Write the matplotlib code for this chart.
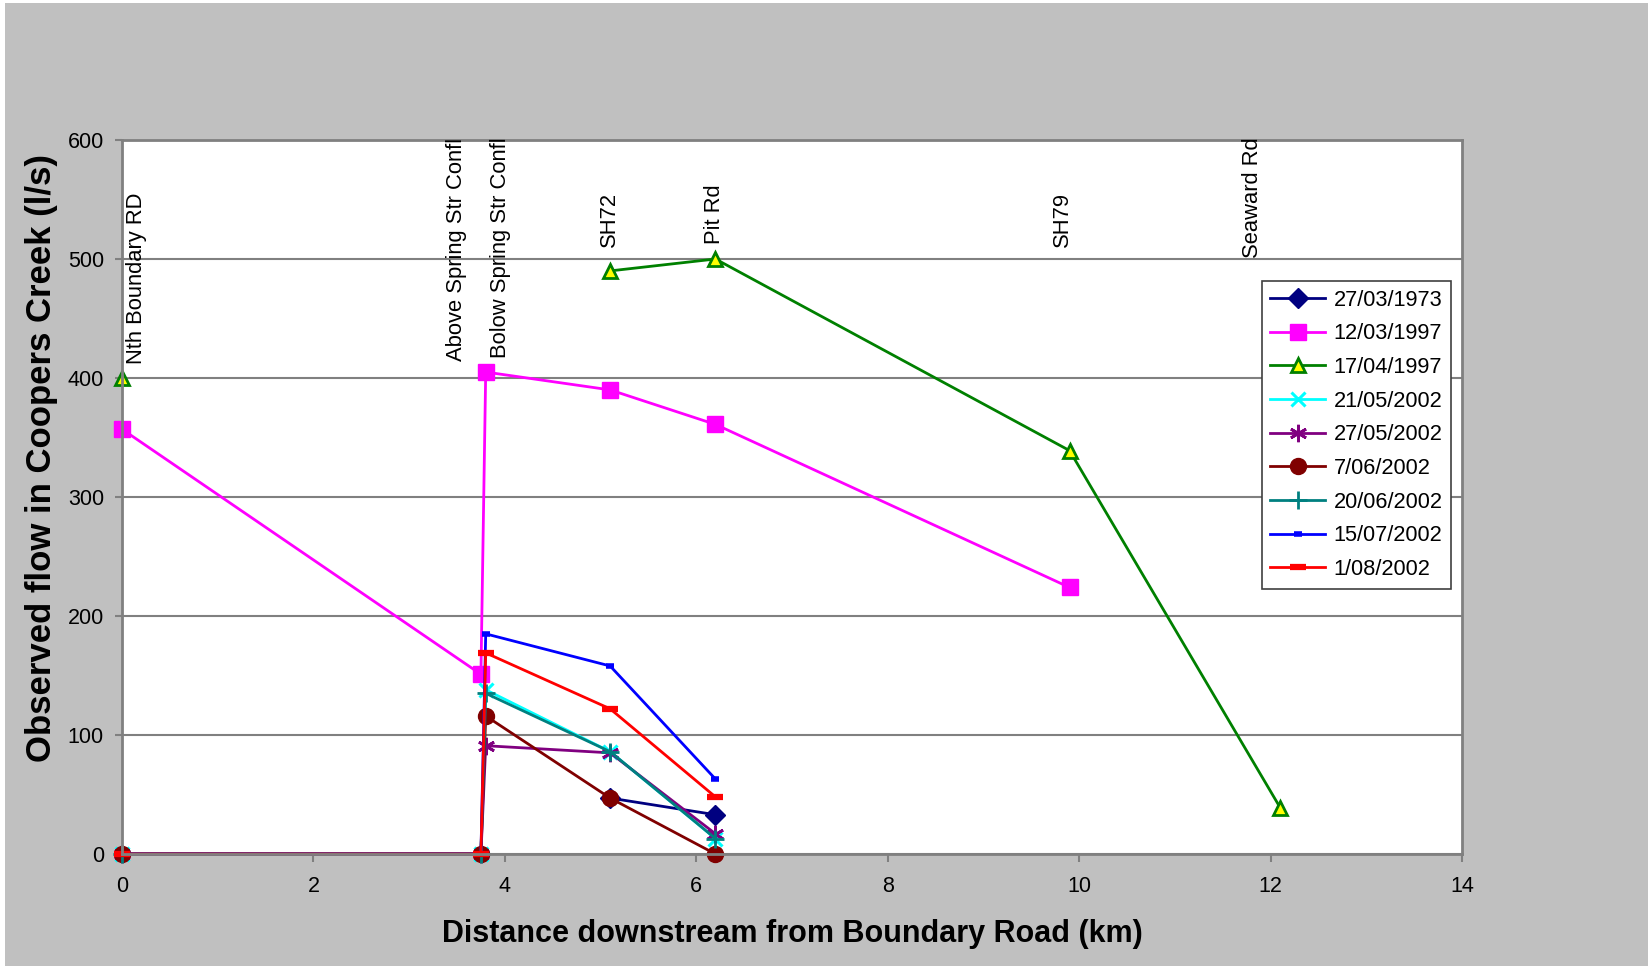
import numpy as np
import matplotlib
matplotlib.use("Agg")
import matplotlib.pyplot as plt
from matplotlib.patches import Rectangle

plt.rcParams['font.family'] = ['Liberation Sans', 'DejaVu Sans']

nan = np.nan

# distance downstream (km) of each gauging site
dist = [0, 3.75, 3.8, 5.1, 6.2, 9.9, 12.1]

flow_270373 = [nan, nan, nan, 47, 33, nan, nan]
flow_120397 = [357, 151, 405, 390, 361, 224, nan]
flow_170497 = [400, nan, nan, 490, 500, 339, 39]
flow_210502 = [0, 0, 138, 86, 13, nan, nan]
flow_270502 = [0, 0, 91, 85, 17, nan, nan]
flow_070602 = [0, 0, 116, 47, 0, nan, nan]
flow_200602 = [0, 0, 135, 86, 13, nan, nan]
flow_150702 = [0, 0, 185, 158, 63, nan, nan]
flow_010802 = [0, 0, 169, 122, 48, nan, nan]

dates = ['27/03/1973', '12/03/1997', '17/04/1997', '21/05/2002', '27/05/2002',
         '7/06/2002', '20/06/2002', '15/07/2002', '1/08/2002']

site_names = ['Nth Boundary RD', 'Above Spring Str Confl', 'Bolow Spring Str Confl',
              'SH72', 'Pit Rd', 'SH79', 'Seaward Rd']
# where the site names sit on the chart
site_label_x = [0.15, 3.50, 3.95, 5.09, 6.19, 9.83, 11.81]
site_label_y = [412, 414, 417, 510, 513, 510, 501]

fig = plt.figure(figsize=(16.49, 9.66), dpi=100)
fig.patch.set_facecolor('white')
fig.add_artist(Rectangle((5 / 1649, 0), 1, 1 - 3 / 966, transform=fig.transFigure,
                         facecolor='#C0C0C0', edgecolor='none', zorder=-10))

ax = fig.add_axes([122 / 1649, (966 - 854) / 966, 1340 / 1649, 714 / 966])
ax.set_facecolor('white')

lw = 2
ax.plot(dist, flow_270373, color='#000080', lw=lw, marker='D', ms=10, label=dates[0], clip_on=False)
ax.plot(dist, flow_120397, color='#FF00FF', lw=lw, marker='s', ms=11, label=dates[1], clip_on=False)
ax.plot(dist, flow_170497, color='#008000', lw=lw, marker='^', ms=10.5, mfc='#FFFF00', mec='#008000',
        mew=2, label=dates[2], clip_on=False)
ax.plot(dist, flow_210502, color='#00FFFF', lw=lw, marker='x', ms=10.5, mew=2.2, label=dates[3], clip_on=False)
ax.plot(dist, flow_270502, color='#800080', lw=lw, marker=(6, 2, 0), ms=12.5, mew=2, label=dates[4], clip_on=False)
ax.plot(dist, flow_070602, color='#800000', lw=lw, marker='o', ms=11.5, label=dates[5], clip_on=False)
ax.plot(dist, flow_200602, color='#008080', lw=lw, marker='+', ms=12.5, mew=2, label=dates[6], clip_on=False)
ax.plot(dist, flow_150702, color='#0000FF', lw=lw, marker='_', ms=6, mew=4, label=dates[7], clip_on=False)
ax.plot(dist, flow_010802, color='#FF0000', lw=lw, marker='_', ms=11, mew=4.5, label=dates[8], clip_on=False)

for name, lx, ly in zip(site_names, site_label_x, site_label_y):
    ax.text(lx, ly, name, rotation=90, ha='center', va='bottom', fontsize=15.8, clip_on=False)

ax.set_xlim(0, 14)
ax.set_ylim(0, 600)
ax.set_xticks(range(0, 15, 2))
ax.set_yticks(range(0, 601, 100))
ax.yaxis.grid(True, color='#808080', lw=1.5)
ax.set_axisbelow(True)
for s in ax.spines.values():
    s.set_color('#808080')
    s.set_linewidth(2)
ax.tick_params(axis='both', colors='#808080', labelcolor='black', labelsize=15.5, width=1.5)
ax.tick_params(axis='x', length=6, pad=10)
ax.tick_params(axis='y', length=5, pad=8)

ax.set_xlabel('Distance downstream from Boundary Road (km)', fontsize=22, fontweight='bold', labelpad=16)
ax.set_ylabel('Observed flow in Coopers Creek (l/s)', fontsize=25, fontweight='bold', labelpad=7, y=0.554)

leg = ax.legend(loc='upper right', bbox_to_anchor=(0.992, 0.8025), borderaxespad=0,
                fontsize=15.7, frameon=True, fancybox=False, shadow=False,
                handlelength=2.5, labelspacing=0.58, borderpad=0.4, handletextpad=0.4)
leg.get_frame().set_edgecolor('#404040')
leg.get_frame().set_linewidth(1.2)
leg.get_frame().set_alpha(1)

fig.savefig('out.png', dpi=100, facecolor=fig.get_facecolor())
